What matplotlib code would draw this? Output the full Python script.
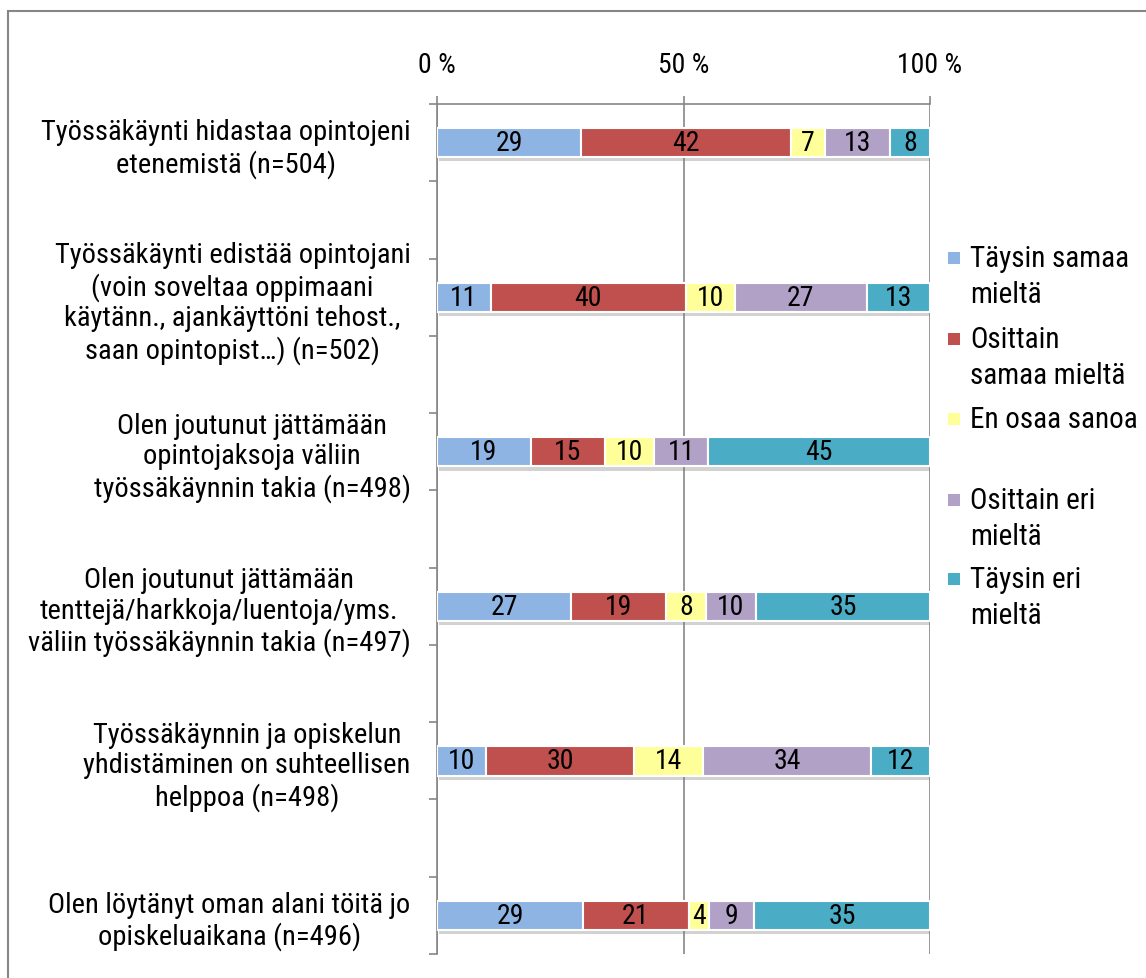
import matplotlib
matplotlib.use("Agg")
import matplotlib.pyplot as plt
import matplotlib.patheffects as pe
from matplotlib import font_manager
from matplotlib.patches import Rectangle
import numpy as np

# statements, top to bottom
CATEGORIES = [
    "Työssäkäynti hidastaa opintojeni\netenemistä (n=504)",
    "Työssäkäynti edistää opintojani\n(voin soveltaa oppimaani\nkäytänn., ajankäyttöni tehost.,\nsaan opintopist…) (n=502)",
    "Olen joutunut jättämään\nopintojaksoja väliin\ntyössäkäynnin takia (n=498)",
    "Olen joutunut jättämään\ntenttejä/harkkoja/luentoja/yms.\nväliin työssäkäynnin takia (n=497)",
    "Työssäkäynnin ja opiskelun\nyhdistäminen on suhteellisen\nhelppoa (n=498)",
    "Olen löytänyt oman alani töitä jo\nopiskeluaikana (n=496)",
]
SERIES = ["Täysin samaa\nmieltä", "Osittain\nsamaa mieltä", "En osaa sanoa",
          "Osittain eri\nmieltä", "Täysin eri\nmieltä"]
COLORS = ["#8EB4E3", "#C0504D", "#FFFF99", "#B2A1C7", "#4BACC6"]

taysin_samaa = [29, 11, 19, 27, 10, 29]
osittain_samaa = [42, 40, 15, 19, 30, 21]
en_osaa = [7, 10, 10, 8, 14, 4]
osittain_eri = [13, 27, 11, 10, 34, 9]
taysin_eri = [8, 13, 45, 35, 12, 35]

XTICKS = [0, 50, 100]
XTICKLABELS = ["0 %", "50 %", "100 %"]

GREY = "#868686"
W, H = 1146, 979

names = {f.name for f in font_manager.fontManager.ttflist}
FONT = next((n for n in ("Liberation Sans Narrow", "Roboto Condensed", "Open Sans")
             if n in names), "DejaVu Sans")
plt.rcParams["font.family"] = [FONT, "DejaVu Sans"]

LABEL_FS = 20.5
NUM_FS = 20

fig = plt.figure(figsize=(W / 100, H / 100), dpi=100)
ax = fig.add_axes([437 / W, 24 / H, 493 / W, 850 / H])

values = np.array([taysin_samaa, osittain_samaa, en_osaa, osittain_eri, taysin_eri], dtype=float)
pct = values / values.sum(axis=0) * 100
ypos = np.arange(len(CATEGORIES)) * 2

shadow = [pe.SimplePatchShadow(offset=(1.5, -3), shadow_rgbFace="#7f7f7f", alpha=0.35), pe.Normal()]
left = np.zeros(len(CATEGORIES))
for i, (name, color) in enumerate(zip(SERIES, COLORS)):
    bars = ax.barh(ypos, pct[i], left=left, height=0.38, color=color,
                   edgecolor="white", linewidth=1.5, zorder=3)
    for b in bars:
        b.set_path_effects(shadow)
    for y, l, w, v in zip(ypos, left, pct[i], values[i]):
        ax.text(l + w / 2, y, f"{int(v)}", ha="center", va="center",
                fontsize=NUM_FS, color="black", zorder=4)
    left += pct[i]

ax.set_xlim(0, 100)
ax.set_ylim(ypos[-1] + 0.5, -0.5)

ax.xaxis.tick_top()
ax.set_xticks(XTICKS)
ax.set_xticklabels(XTICKLABELS, fontsize=NUM_FS)
ax.tick_params(axis="x", length=6, width=1.2, color=GREY, pad=13)
ax.xaxis.grid(True, color=GREY, linewidth=1.2)
ax.set_axisbelow(True)

ax.set_yticks(ypos)
ax.set_yticklabels(CATEGORIES, fontsize=LABEL_FS, multialignment="center", linespacing=1.17)
ax.set_yticks(np.arange(-0.5, ypos[-1] + 1, 1), minor=True)
ax.tick_params(axis="y", which="major", length=0, pad=19)
ax.tick_params(axis="y", which="minor", length=6, width=1.2, color=GREY)

for s in ("right", "bottom"):
    ax.spines[s].set_visible(False)
for s in ("top", "left"):
    ax.spines[s].set_color(GREY)
    ax.spines[s].set_linewidth(1.2)

# legend, Excel style: marker aligned with the first text line
leg_y = [259, 340, 420, 501, 580]
for name, color, yp in zip(SERIES, COLORS, leg_y):
    fig.patches.append(Rectangle((948 / W, 1 - (yp + 6) / H), 12 / W, 12 / H,
                                 transform=fig.transFigure, facecolor=color,
                                 edgecolor="none"))
    for k, line in enumerate(name.split("\n")):
        fig.text(970 / W, 1 - (yp + k * 36) / H, line, ha="left", va="center",
                 fontsize=LABEL_FS + 0.5)

# chart area border
fig.patches.append(Rectangle((8 / W, -0.05), 2, 0.05 + 1 - 12 / H,
                             transform=fig.transFigure, fill=False,
                             edgecolor=GREY, linewidth=1.5))

fig.savefig("out.png", dpi=100)
